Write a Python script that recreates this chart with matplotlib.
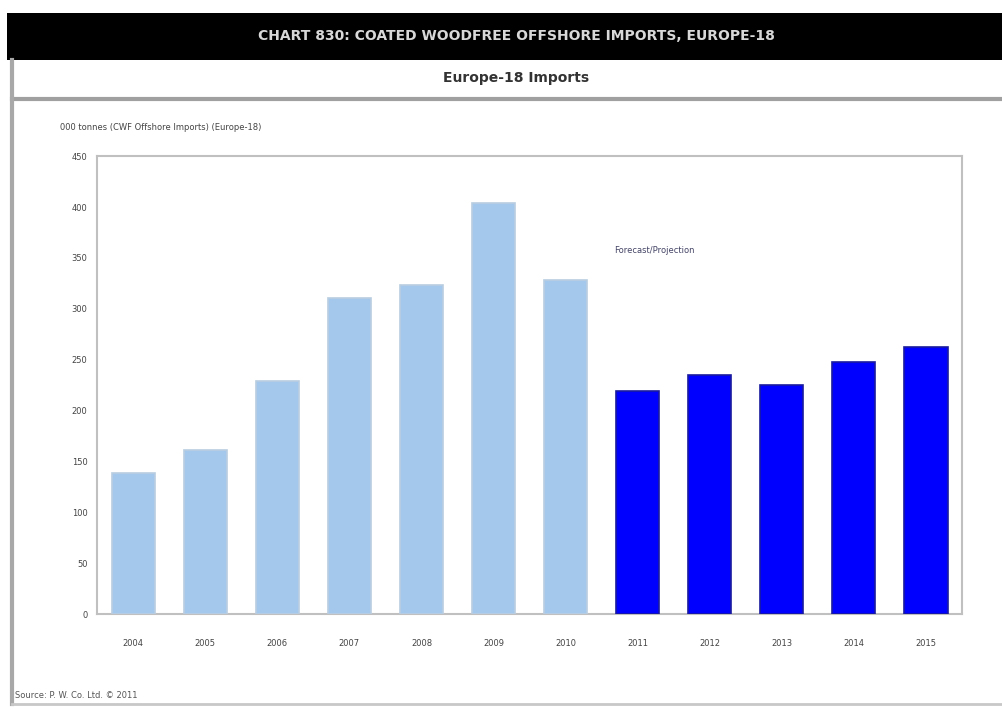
import matplotlib.pyplot as plt
import numpy as np

# data
years = ['2004', '2005', '2006', '2007', '2008', '2009', '2010',
         '2011', '2012', '2013', '2014', '2015']
imports = [139, 161, 229, 311, 323, 404, 328, 219, 235, 225, 248, 263]
is_forecast = [False] * 7 + [True] * 5
y_ticks = [0, 50, 100, 150, 200, 250, 300, 350, 400, 450]

title = 'CHART 830: COATED WOODFREE OFFSHORE IMPORTS, EUROPE-18'
subtitle = 'Europe-18 Imports'
ylabel = '000 tonnes (CWF Offshore Imports) (Europe-18)'
note = 'Forecast/Projection'
source = 'Source: P. W. Co. Ltd. \u00a9 2011'

fig = plt.figure(figsize=(10.02, 7.10), dpi=100)
fig.patch.set_facecolor('white')

# header band and frame
fig.add_artist(plt.Rectangle((0.007, 0.915), 0.993, 0.067, transform=fig.transFigure,
                             facecolor='black', edgecolor='none'))
fig.text(0.515, 0.949, title, color='#d8d8d8', fontsize=10, fontweight='bold',
         ha='center', va='center')
fig.text(0.515, 0.890, subtitle, color='#333333', fontsize=10, fontweight='bold',
         ha='center', va='center')
fig.add_artist(plt.Line2D([0.012, 1.0], [0.860, 0.860], transform=fig.transFigure,
                          color='#a0a0a0', lw=3))
fig.add_artist(plt.Line2D([0.012, 0.012], [0.008, 0.915], transform=fig.transFigure,
                          color='#a8a8a8', lw=3))
fig.add_artist(plt.Line2D([0.012, 1.0], [0.008, 0.008], transform=fig.transFigure,
                          color='#c8c8c8', lw=2))

ax = fig.add_axes([0.097, 0.135, 0.863, 0.645])
x = np.arange(len(years))
fills = ['#0000ff' if f else '#a4c8ec' for f in is_forecast]
edges = ['#1a1aa0' if f else '#b9cde0' for f in is_forecast]
ax.bar(x, imports, width=0.6, color=fills, edgecolor=edges, linewidth=1.2, zorder=3)

ax.set_xlim(-0.5, len(years) - 0.5)
ax.set_ylim(0, 450)
ax.set_yticks(y_ticks)
ax.set_yticklabels([str(t) for t in y_ticks], fontsize=6, color='#444444')
ax.set_xticks(x)
ax.set_xticklabels(years, fontsize=6, color='#444444')
ax.tick_params(axis='both', length=0, pad=18)
ax.tick_params(axis='y', pad=7)
for s in ax.spines.values():
    s.set_color('#c0c0c0')
    s.set_linewidth(1.5)

ax.text(0.598, 0.795, note, transform=ax.transAxes, fontsize=6, color='#444466',
        va='center')

fig.text(0.06, 0.82, ylabel, fontsize=6, color='#444444', va='center')
fig.text(0.015, 0.014, source, fontsize=6, color='#555555', va='bottom')

fig.savefig('out.png', dpi=100)
